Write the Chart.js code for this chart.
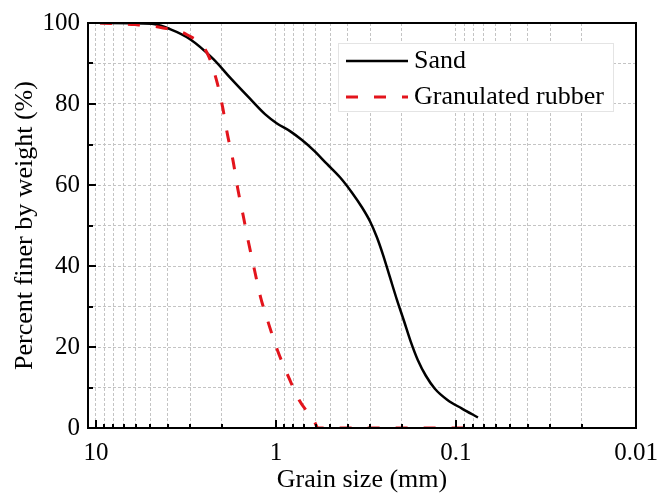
<!DOCTYPE html>
<html>
<head>
<meta charset="utf-8">
<script src="https://cdn.jsdelivr.net/npm/chart.js@4.4.1/dist/chart.umd.min.js"></script>
<style>
  html, body { margin: 0; padding: 0; background: #fff; }
  #wrap { width: 659px; height: 494px; position: relative; }
</style>
</head>
<body>
<div id="wrap"><canvas id="grading"></canvas></div>
<script>
// grain size (mm) / percent passing
const sandSize = [9.5, 4.89, 3.88, 3.0, 2.24, 1.756, 1.394, 1.151, 0.987, 0.836, 0.717, 0.615, 0.521, 0.441, 0.378, 0.333, 0.300, 0.275, 0.254, 0.233, 0.213, 0.194, 0.178, 0.163, 0.147, 0.131, 0.112, 0.0926, 0.0755];
const sandPass = [100, 99.8, 98.5, 96.0, 91.2, 86.0, 81.3, 77.5, 75.2, 73.3, 71.1, 68.5, 65.2, 61.9, 58.1, 54.5, 51.0, 47.1, 42.7, 37.3, 31.7, 26.3, 21.2, 16.8, 12.9, 9.7, 7.0, 4.8, 2.6];

const rubberSize = [9.5, 6.07, 4.36, 3.12, 2.42, 2.14, 1.98, 1.86, 1.73, 1.63, 1.52, 1.42, 1.316, 1.219, 1.101, 0.987, 0.863, 0.745, 0.61, 0.585, 0.075];
const rubberPass = [100, 99.6, 98.9, 97.1, 92.7, 85.9, 79.3, 72.5, 65.9, 59.1, 52.4, 45.8, 39.0, 32.4, 25.9, 19.5, 13.2, 7.0, 1.5, 0, 0];

const seriesNames = ['Sand', 'Granulated rubber'];
const xDecades = [10, 1, 0.1, 0.01];      // labelled x ticks
const yTicks = [0, 10, 20, 30, 40, 50, 60, 70, 80, 90, 100];
const yLabelStep = 20;

const FONT = "'Liberation Serif', 'Times New Roman', serif";

// grid values 1..9 within each decade from 0.01 to 10
const xGrid = [];
[0.01, 0.1, 1].forEach(d => { for (let k = 1; k <= 9; k++) xGrid.push(+(k * d).toPrecision(3)); });
xGrid.push(10);

const isDecade = v => xDecades.some(d => Math.abs(v - d) < 1e-9);

const toPts = (xs, ys) => xs.map((x, i) => ({ x: x, y: ys[i] }));

// frame + inward tick marks + legend box
const framePlugin = {
    id: 'frame',
    afterDatasetsDraw(chart) {
        const { ctx, chartArea: a, scales } = chart;
        ctx.save();
        ctx.strokeStyle = '#000';
        ctx.lineWidth = 2;
        ctx.setLineDash([]);
        ctx.strokeRect(a.left, a.top, a.right - a.left, a.bottom - a.top);

        ctx.beginPath();
        xGrid.forEach(v => {
            const px = Math.round(scales.x.getPixelForValue(v));
            const len = isDecade(v) ? 8 : 4;
            ctx.moveTo(px, a.bottom);
            ctx.lineTo(px, a.bottom - len);
        });
        yTicks.forEach(v => {
            const py = Math.round(scales.y.getPixelForValue(v));
            const len = v % yLabelStep === 0 ? 8 : 5;
            ctx.moveTo(a.left, py);
            ctx.lineTo(a.left + len, py);
        });
        ctx.stroke();

        // legend
        const bx = 338, by = 43, bw = 275, bh = 68;
        ctx.fillStyle = '#fff';
        ctx.fillRect(bx, by, bw, bh);
        ctx.strokeStyle = '#e4e4e4';
        ctx.lineWidth = 1;
        ctx.strokeRect(bx + 0.5, by + 0.5, bw, bh);
        const rows = [61, 97];
        chart.data.datasets.forEach((ds, i) => {
            const y = rows[i];
            ctx.strokeStyle = ds.borderColor;
            ctx.lineWidth = ds.borderWidth;
            ctx.setLineDash(ds.borderDash || []);
            ctx.beginPath();
            ctx.moveTo(346, y);
            ctx.lineTo(408, y);
            ctx.stroke();
            ctx.setLineDash([]);
            ctx.fillStyle = '#000';
            ctx.font = '26px ' + FONT;
            ctx.textBaseline = 'middle';
            ctx.fillText(ds.label, 414, y);
        });
        ctx.restore();
    }
};

new Chart(document.getElementById('grading'), {
    type: 'line',
    data: {
        datasets: [
            { label: seriesNames[0], data: toPts(sandSize, sandPass), borderColor: '#000000', borderWidth: 2.5,
              pointRadius: 0, cubicInterpolationMode: 'monotone', fill: false, order: 1 },
            { label: seriesNames[1], data: toPts(rubberSize, rubberPass), borderColor: '#e3141c', borderWidth: 3,
              borderDash: [12, 16], pointRadius: 0, cubicInterpolationMode: 'monotone', fill: false, order: 0 }
        ]
    },
    options: {
        responsive: true,
        maintainAspectRatio: false,
        animation: false,
        layout: { padding: { top: 20, right: 23, left: 0, bottom: 0 } },
        plugins: { legend: { display: false }, tooltip: { enabled: false } },
        scales: {
            x: {
                type: 'logarithmic',
                reverse: true,
                min: 0.01,
                max: 11.07,
                afterBuildTicks: s => { s.ticks = xGrid.map(v => ({ value: v })); },
                afterFit: s => { s.height = 66; },
                grid: { color: '#c4c4c4', lineWidth: 1, drawTicks: false },
                border: { display: false, dash: [3, 2] },
                ticks: {
                    autoSkip: false, maxRotation: 0, padding: 10, color: '#000',
                    font: { family: FONT, size: 25 },
                    callback: v => isDecade(v) ? String(v) : ''
                },
                title: { display: true, text: 'Grain size (mm)', color: '#000',
                         font: { family: FONT, size: 26, lineHeight: 1 }, padding: { top: 0, bottom: 1 } }
            },
            y: {
                min: 0,
                max: 100,
                afterBuildTicks: s => { s.ticks = yTicks.map(v => ({ value: v })); },
                afterFit: s => { s.width = 88; },
                grid: { color: '#c4c4c4', lineWidth: 1, drawTicks: false },
                border: { display: false, dash: [3, 2] },
                ticks: {
                    autoSkip: false, padding: 8, color: '#000',
                    font: { family: FONT, size: 25 },
                    callback: v => v % yLabelStep === 0 ? String(v) : ''
                },
                title: { display: true, text: 'Percent finer by weight (%)', color: '#000',
                         font: { family: FONT, size: 26, lineHeight: 1 }, padding: { top: 12, bottom: 0 } }
            }
        }
    },
    plugins: [framePlugin]
});
</script>
</body>
</html>
